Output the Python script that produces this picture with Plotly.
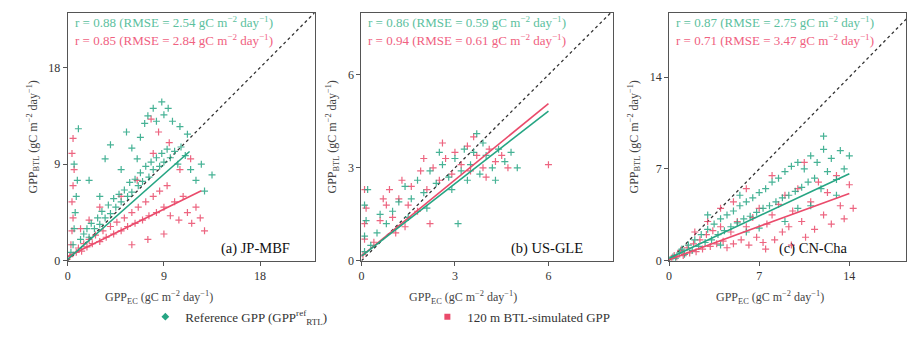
import plotly.graph_objects as go

# ---------------- data ----------------
sites = ["(a) JP-MBF", "(b) US-GLE", "(c) CN-Cha"]
x_ticks = [[0, 9, 18], [0, 3, 6], [0, 7, 14]]
axis_max_x = [23.1, 8.08, 18.4]
axis_max_y = [23.1, 8.0, 18.9]

# Panel (a) JP-MBF
a_ref_x = [0.3,0.5,0.6,0.7,0.8,0.9,0.6,1.0,1.2,1.5,1.8,2.0,2.2,2.5,2.8,3.0,3.2,3.5,3.8,4.0,4.3,4.5,4.8,5.0,5.3,5.6,5.8,6.0,6.3,6.6,6.8,7.0,7.3,7.6,7.8,8.0,8.3,8.6,8.8,9.0,9.3,9.6,10.0,10.3,10.6,11.0,11.5,12.0,12.5,7.5,8.0,8.3,8.8,9.0,9.4,9.8,7.2,6.8,6.0,5.5,10.5,11.2,4.0,3.5,2.0,12.8,13.5,3.0,5.0,6.5]
a_ref_y = [0.8,1.5,3.0,4.5,6.0,7.5,9.0,12.3,2.0,2.5,3.0,2.2,3.5,3.0,4.0,3.4,4.6,4.0,5.2,4.4,5.8,5.0,6.2,5.5,6.6,6.0,7.3,6.4,7.6,7.0,8.2,7.4,8.8,7.8,9.2,8.5,9.6,8.8,10.0,9.2,10.4,9.6,10.2,9.0,10.6,9.8,8.5,7.5,9.0,13.5,14.2,13.0,14.8,13.6,14.2,13.0,12.8,11.5,10.5,12.0,12.5,11.8,10.8,9.5,7.5,6.5,8.0,6.0,8.5,9.5]
a_btl_x = [0.2,0.3,0.4,0.5,0.4,0.5,0.6,0.4,0.5,0.8,1.0,1.3,1.5,1.8,2.0,2.3,2.6,3.0,3.3,3.6,4.0,4.3,4.6,5.0,5.3,5.6,6.0,6.3,6.6,7.0,7.3,7.6,8.0,8.3,8.6,9.0,9.3,9.6,10.0,10.4,10.8,11.2,11.6,12.0,12.4,12.8,9.0,7.5,6.0,8.0,8.5,7.8,9.5,10.5,11.5,3.0,2.0,5.0,6.5,1.2]
a_btl_y = [0.4,1.5,2.8,4.0,5.5,7.0,8.5,10.0,11.4,0.8,1.2,0.9,1.6,1.3,2.0,1.6,2.4,1.8,2.8,2.2,3.2,2.5,3.6,2.8,4.0,3.2,4.5,3.5,5.0,3.8,5.5,4.2,6.0,4.5,6.5,5.0,7.0,4.2,5.5,3.8,6.0,4.5,3.5,5.0,4.0,2.8,2.5,2.0,1.5,10.0,12.0,13.2,11.0,8.5,9.5,5.0,3.8,6.0,7.5,3.0]

# Panel (b) US-GLE
b_ref_x = [0.1,0.1,0.15,0.1,0.2,0.3,0.5,0.8,1.0,1.2,1.4,1.6,1.8,2.0,2.2,2.4,2.6,2.8,3.0,3.2,3.3,3.5,3.6,3.8,4.0,4.2,4.4,4.6,4.8,3.9,3.4,2.9,3.1,4.3,2.5,1.5,0.6,5.0,3.7,2.1]
b_ref_y = [0.3,0.8,1.3,1.8,2.3,0.5,0.9,1.2,1.6,1.9,2.4,2.0,2.6,2.2,2.9,2.5,3.1,2.7,3.3,2.9,3.6,3.1,3.5,2.8,3.4,3.0,3.6,3.2,3.5,3.8,2.6,2.3,1.2,2.6,3.5,1.4,1.5,3.0,4.1,1.7]
b_btl_x = [0.05,0.1,0.1,0.15,0.1,0.4,0.6,0.8,0.9,1.0,1.2,1.3,1.5,1.6,1.8,1.9,2.1,2.3,2.5,2.7,2.9,3.0,3.2,3.4,3.5,3.7,3.9,4.1,4.3,4.5,4.7,6.0,2.2,1.1,3.6,2.6,0.7,1.4,4.0,2.0]
b_btl_y = [0.2,0.7,1.2,1.7,2.3,0.6,1.3,1.8,2.3,1.4,2.0,2.6,1.8,2.4,1.6,2.9,2.3,3.0,2.6,3.3,2.8,3.5,3.1,3.7,2.9,3.4,3.0,3.6,3.2,3.4,3.0,3.1,1.2,0.9,4.0,3.8,2.0,1.1,2.7,3.3]

# Panel (c) CN-Cha
c_ref_x = [0.3,0.5,0.8,1.0,1.2,1.5,1.8,2.0,2.3,2.5,2.8,3.0,3.3,3.5,3.8,4.0,4.3,4.5,4.8,5.0,5.3,5.5,5.8,6.0,6.3,6.5,6.8,7.0,7.3,7.5,7.8,8.0,8.3,8.5,8.8,9.0,9.3,9.5,9.8,10.0,10.3,10.5,10.8,11.0,11.3,11.5,11.8,12.0,12.3,12.6,13.0,13.3,13.6,14.0,12.0,11.0,9.0,6.0,4.0,3.0,5.5,7.0,10.0,13.0]
c_ref_y = [0.3,0.2,0.6,0.9,0.5,1.2,0.8,1.6,1.1,2.0,1.4,2.4,1.6,2.8,2.0,3.2,2.3,3.5,2.6,3.8,2.9,4.2,3.2,4.5,3.4,4.8,3.7,5.2,4.0,5.5,4.2,6.0,4.5,6.3,4.8,6.8,5.0,7.2,5.3,7.5,5.6,7.0,6.0,8.0,6.3,7.5,5.5,8.5,6.8,7.8,6.2,8.4,7.0,8.0,9.5,4.2,3.0,2.2,1.2,3.5,5.0,2.5,4.0,5.0]
c_btl_x = [0.2,0.4,0.6,0.9,1.1,1.4,1.6,1.9,2.1,2.4,2.6,2.9,3.2,3.4,3.7,4.0,4.2,4.5,4.8,5.0,5.3,5.6,6.0,6.2,6.5,6.8,7.0,7.3,7.6,8.0,8.2,8.5,8.8,9.0,9.3,9.6,10.0,10.3,10.6,11.0,11.3,11.6,12.0,12.3,12.6,13.0,13.3,13.6,14.0,14.3,3.0,5.0,6.0,4.0,2.0,8.0,10.5,9.5,7.5]
c_btl_y = [0.2,0.4,0.3,0.8,0.4,1.0,0.6,1.3,0.7,1.6,0.9,2.0,1.1,2.3,1.3,2.6,1.5,1.0,2.2,1.3,3.0,1.6,2.6,1.2,3.3,1.8,4.0,1.4,2.8,3.5,1.6,4.3,2.2,5.0,2.6,3.8,5.5,3.0,1.8,4.5,2.4,6.0,3.5,5.2,2.8,6.5,4.2,3.2,5.8,4.0,3.0,4.5,5.5,4.0,2.2,6.5,7.5,1.2,0.9]

# regression fits: slope, intercept, x extent
ref_slope = [0.88, 0.78, 0.46]
ref_icpt = [0.15, 0.15, 0.2]
ref_xmax = [11.4, 6.0, 14.0]
btl_slope = [0.49, 0.82, 0.36]
btl_icpt = [0.4, 0.15, 0.1]
btl_xmax = [12.5, 6.0, 14.0]

ref_stats = [("0.88", "2.54"), ("0.86", "0.59"), ("0.87", "2.75")]
btl_stats = [("0.85", "2.84"), ("0.94", "0.61"), ("0.71", "3.47")]

ref_x = [a_ref_x, b_ref_x, c_ref_x]
ref_y = [a_ref_y, b_ref_y, c_ref_y]
btl_x = [a_btl_x, b_btl_x, c_btl_x]
btl_y = [a_btl_y, b_btl_y, c_btl_y]

# ---------------- style ----------------
GREEN = "#26a583"
RED = "#ea4b6b"
FONT = "Liberation Serif"
W, H = 907, 363
x_dom = [(65 / W, 313 / W), (360 / W, 613 / W), (669 / W, 1.0)]
y_dom = (1 - 266 / H, 1 - 13 / H)
xtitle_cx = [157 / W, 462 / W, 770 / W]

fig = go.Figure()

for i in range(3):
    xa = "x" if i == 0 else f"x{i+1}"
    ya = "y" if i == 0 else f"y{i+1}"
    m = max(axis_max_x[i], axis_max_y[i])
    fig.add_trace(go.Scatter(x=[0, m], y=[0, m], mode="lines", xaxis=xa, yaxis=ya,
                             line=dict(color="#333333", width=1.3, dash="dot"),
                             showlegend=False, hoverinfo="skip"))
    fig.add_trace(go.Scatter(x=btl_x[i], y=btl_y[i], mode="markers", xaxis=xa, yaxis=ya,
                             marker=dict(symbol="cross-thin", size=5, color=RED,
                                         line=dict(color=RED, width=1.2)),
                             opacity=0.85, showlegend=False))
    fig.add_trace(go.Scatter(x=ref_x[i], y=ref_y[i], mode="markers", xaxis=xa, yaxis=ya,
                             marker=dict(symbol="cross-thin", size=5, color=GREEN,
                                         line=dict(color=GREEN, width=1.2)),
                             opacity=0.85, showlegend=False))
    fig.add_trace(go.Scatter(x=[0, btl_xmax[i]],
                             y=[btl_icpt[i], btl_icpt[i] + btl_slope[i] * btl_xmax[i]],
                             mode="lines", xaxis=xa, yaxis=ya,
                             line=dict(color=RED, width=1.6), showlegend=False))
    fig.add_trace(go.Scatter(x=[0, ref_xmax[i]],
                             y=[ref_icpt[i], ref_icpt[i] + ref_slope[i] * ref_xmax[i]],
                             mode="lines", xaxis=xa, yaxis=ya,
                             line=dict(color=GREEN, width=1.6), showlegend=False))

    axis_common = dict(showline=True, mirror=True, linecolor="#555555", linewidth=1,
                       ticks="outside", ticklen=4, tickcolor="#555555",
                       tickfont=dict(family=FONT, size=12, color="#333333"),
                       showgrid=False, zeroline=False)
    fig.update_layout(**{
        ("xaxis" if i == 0 else f"xaxis{i+1}"): dict(
            domain=list(x_dom[i]), range=[0, axis_max_x[i]], anchor=ya,
            tickvals=x_ticks[i], **axis_common),
        ("yaxis" if i == 0 else f"yaxis{i+1}"): dict(
            domain=list(y_dom), range=[0, axis_max_y[i]], anchor=xa,
            tickvals=x_ticks[i],
            title=dict(text="GPP<sub>BTL</sub> (gC m<sup>−2</sup> day<sup>−1</sup>)",
                       font=dict(family=FONT, size=12, color="#444444"), standoff=8),
            **axis_common),
    })

    fig.add_annotation(xref="paper", yref="paper", x=xtitle_cx[i], y=1 - 303 / H,
                       xanchor="center", yanchor="middle", showarrow=False,
                       text="GPP<sub>EC</sub> (gC m<sup>−2</sup> day<sup>−1</sup>)",
                       font=dict(family=FONT, size=12, color="#444444"))

    x0 = x_dom[i][0] + 5 / W
    fig.add_annotation(xref="paper", yref="paper", x=x0, y=1 - 22 / H, xanchor="left",
                       yanchor="middle", showarrow=False,
                       text=f"r = {ref_stats[i][0]} (RMSE = {ref_stats[i][1]} gC m<sup>−2</sup> day<sup>−1</sup>)",
                       font=dict(family=FONT, size=13, color="#5cbf9e"))
    fig.add_annotation(xref="paper", yref="paper", x=x0, y=1 - 41 / H, xanchor="left",
                       yanchor="middle", showarrow=False,
                       text=f"r = {btl_stats[i][0]} (RMSE = {btl_stats[i][1]} gC m<sup>−2</sup> day<sup>−1</sup>)",
                       font=dict(family=FONT, size=13, color="#f0617f"))

# panel labels
label_x = [217 / W, 508 / W, 777 / W]
for i in range(3):
    fig.add_annotation(xref="paper", yref="paper", x=label_x[i], y=1 - 253 / H,
                       xanchor="left", yanchor="middle", showarrow=False,
                       text=sites[i], font=dict(family=FONT, size=14.5, color="#111111"))

# legend-only traces
fig.add_trace(go.Scatter(x=[None], y=[None], mode="markers", name="Reference GPP (GPP<sup>ref</sup><sub>RTL</sub>)",
                         marker=dict(symbol="diamond", size=6, color=GREEN)))
fig.add_trace(go.Scatter(x=[None], y=[None], mode="markers", name="120 m BTL-simulated GPP",
                         marker=dict(symbol="square", size=6, color=RED)))

fig.update_layout(
    width=W, height=H, margin=dict(l=0, r=0, t=0, b=0),
    paper_bgcolor="white", plot_bgcolor="white",
    font=dict(family=FONT, size=12, color="#333333"),
    legend=dict(orientation="h", x=143 / W, y=1 - 323 / H, xanchor="left", yanchor="middle",
                entrywidth=237, entrywidthmode="pixels",
                font=dict(family=FONT, size=13, color="#333333"), bgcolor="rgba(0,0,0,0)"),
)

fig.write_html("out.html")
